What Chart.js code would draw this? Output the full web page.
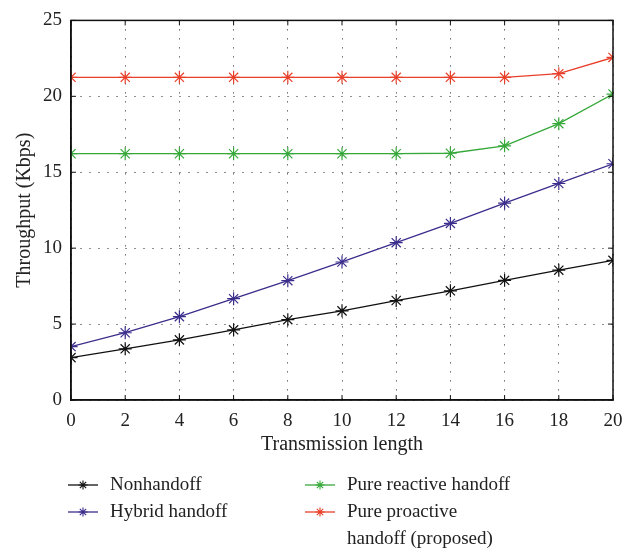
<!DOCTYPE html>
<html>
<head>
<meta charset="utf-8">
<script src="https://cdn.jsdelivr.net/npm/chart.js@4/dist/chart.umd.min.js"></script>
<style>
  html, body { margin: 0; padding: 0; background: #fff; }
  #wrap { width: 633px; height: 552px; }
</style>
</head>
<body>
<div id="wrap"><canvas id="c" width="633" height="552"></canvas></div>
<script>
// ---- Data ----
const transmissionLength = [0, 2, 4, 6, 8, 10, 12, 14, 16, 18, 20];
const nonhandoff     = [2.79, 3.37, 3.96, 4.62, 5.29, 5.87, 6.55, 7.19, 7.88, 8.55, 9.20];
const hybridHandoff  = [3.52, 4.43, 5.49, 6.67, 7.86, 9.09, 10.36, 11.63, 12.97, 14.26, 15.56];
const pureReactive   = [16.22, 16.22, 16.22, 16.22, 16.22, 16.22, 16.22, 16.25, 16.74, 18.20, 20.15];
const pureProactive  = [21.25, 21.25, 21.25, 21.25, 21.25, 21.25, 21.25, 21.25, 21.25, 21.49, 22.56];
const seriesLabels   = ["Nonhandoff", "Hybrid handoff", "Pure reactive handoff", "Pure proactive handoff (proposed)"];
const legendLines    = [["Nonhandoff"], ["Hybrid handoff"], ["Pure reactive handoff"], ["Pure proactive", "handoff (proposed)"]];
const yTickValues    = [0, 5, 10, 15, 20, 25];
const xTickValues    = [0, 2, 4, 6, 8, 10, 12, 14, 16, 18, 20];

const colors = ["#111111", "#3b2d8c", "#36a83a", "#e8402a"];
const FONT = "'Liberation Serif', 'Times New Roman', serif";

function toPoints(ys) { return transmissionLength.map((x, i) => ({ x: x, y: ys[i] })); }

const allSeries = [nonhandoff, hybridHandoff, pureReactive, pureProactive];
const datasets = allSeries.map((ys, i) => ({
  label: seriesLabels[i],
  data: toPoints(ys),
  borderColor: colors[i],
  backgroundColor: colors[i],
  pointStyle: 'star',
  pointRadius: 6.5,
  pointBorderWidth: 1.2,
  pointBorderColor: colors[i],
  borderWidth: 1.3,
  tension: 0,
  fill: false
}));

// frame + inward ticks + legend
const framePlugin = {
  id: 'frame',
  afterDatasetsDraw(chart) {
    const { ctx, chartArea: a, scales } = chart;
    ctx.save();
    ctx.strokeStyle = '#111';
    ctx.lineWidth = 1.5;
    ctx.setLineDash([]);
    ctx.strokeRect(a.left, a.top, a.right - a.left, a.bottom - a.top);
    ctx.lineWidth = 1;
    const tl = 5;
    xTickValues.forEach(v => {
      const px = scales.x.getPixelForValue(v);
      ctx.beginPath();
      ctx.moveTo(px, a.bottom); ctx.lineTo(px, a.bottom - tl);
      ctx.moveTo(px, a.top); ctx.lineTo(px, a.top + tl);
      ctx.stroke();
    });
    yTickValues.forEach(v => {
      const py = scales.y.getPixelForValue(v);
      ctx.beginPath();
      ctx.moveTo(a.left, py); ctx.lineTo(a.left + tl, py);
      ctx.moveTo(a.right, py); ctx.lineTo(a.right - tl, py);
      ctx.stroke();
    });
    ctx.restore();
  },
  afterDraw(chart) {
    const { ctx } = chart;
    const slots = [
      { lx: 68, tx: 110, y: 485 },
      { lx: 68, tx: 110, y: 512 },
      { lx: 305, tx: 347, y: 485 },
      { lx: 305, tx: 347, y: 512 }
    ];
    ctx.save();
    chart.data.datasets.forEach((ds, i) => {
      const s = slots[i];
      ctx.strokeStyle = ds.borderColor;
      ctx.lineWidth = 1.3;
      ctx.beginPath();
      ctx.moveTo(s.lx, s.y); ctx.lineTo(s.lx + 30, s.y);
      ctx.stroke();
      // asterisk marker
      const cx = s.lx + 15, r = 4.5;
      ctx.lineWidth = 1.1;
      ctx.beginPath();
      ctx.moveTo(cx - r, s.y); ctx.lineTo(cx + r, s.y);
      ctx.moveTo(cx, s.y - r); ctx.lineTo(cx, s.y + r);
      const d = r * 0.707;
      ctx.moveTo(cx - d, s.y - d); ctx.lineTo(cx + d, s.y + d);
      ctx.moveTo(cx - d, s.y + d); ctx.lineTo(cx + d, s.y - d);
      ctx.stroke();
      ctx.fillStyle = '#222';
      ctx.font = "19px " + FONT;
      ctx.textBaseline = 'middle';
      ctx.textAlign = 'left';
      legendLines[i].forEach((t, k) => ctx.fillText(t, s.tx, s.y + k * 27));
    });
    ctx.restore();
  }
};

new Chart(document.getElementById('c'), {
  type: 'line',
  data: { datasets },
  options: {
    responsive: false,
    animation: false,
    devicePixelRatio: 1,
    layout: { padding: { left: 0, right: 20, top: 14, bottom: 92 } },
    plugins: { legend: { display: false }, tooltip: { enabled: false } },
    scales: {
      x: {
        type: 'linear',
        min: 0, max: 20,
        afterFit(scale) { scale.height = 60; },
        afterBuildTicks(scale) { scale.ticks = xTickValues.map(v => ({ value: v })); },
        ticks: { color: '#222', font: { family: FONT, size: 19 }, padding: 10, maxRotation: 0, autoSkip: false },
        grid: { color: '#222', lineWidth: 1, drawTicks: false },
        border: { display: true, color: '#111', width: 1.5, dash: [1, 8] },
        title: { display: true, text: 'Transmission length', color: '#222', font: { family: FONT, size: 20 }, padding: { top: 0, bottom: 3 } }
      },
      y: {
        type: 'linear',
        min: 0, max: 25,
        afterFit(scale) { scale.width = 71; },
        afterBuildTicks(scale) { scale.ticks = yTickValues.map(v => ({ value: v })); },
        ticks: { color: '#222', font: { family: FONT, size: 19 }, padding: 9 },
        grid: { color: '#222', lineWidth: 1, drawTicks: false },
        border: { display: true, color: '#111', width: 1.5, dash: [1, 8] },
        title: { display: true, text: 'Throughput (Kbps)', color: '#222', font: { family: FONT, size: 20 }, padding: { top: 13, bottom: 0 } }
      }
    }
  },
  plugins: [framePlugin]
});
</script>
</body>
</html>
